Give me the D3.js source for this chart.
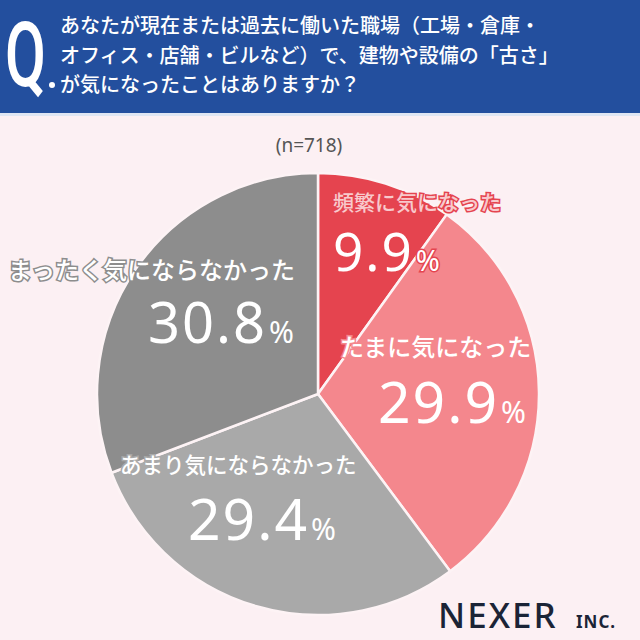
<!DOCTYPE html>
<html><head><meta charset="utf-8">
<script src="https://cdn.jsdelivr.net/npm/d3@7"></script>
<style>
html,body{margin:0;padding:0;background:#fcf0f3;}
svg{display:block;}
</style></head>
<body>
<script>
const categories = ["頻繁に気になった","たまに気になった","あまり気にならなかった","まったく気にならなかった"];
const values = [9.9, 29.9, 29.4, 30.8];
const colors = ["#e5444f","#f4878d","#a9a9a9","#8d8d8d"];
const questionLines = ["あなたが現在または過去に働いた職場（工場・倉庫・","オフィス・店舗・ビルなど）で、建物や設備の「古さ」","が気になったことはありますか？"];
const sampleLabel = "(n=718)";

const W = 640, H = 640;
const svg = d3.select("body").append("svg").attr("width", W).attr("height", H);
svg.append("rect").attr("width", W).attr("height", H).attr("fill", "#fcf0f3");

// header
svg.append("rect").attr("width", W).attr("height", 113).attr("fill", "#234f9e");
svg.append("rect").attr("y", 113).attr("width", W).attr("height", 3).attr("fill", "#dfe6f3");
svg.append("text").attr("transform", "translate(5,86) scale(0.66,1)")
  .attr("font-family", "Roboto, 'Liberation Sans', sans-serif").attr("font-weight", 500)
  .attr("font-size", 90).attr("fill", "#fff").text("Q");
svg.append("circle").attr("cx", 52).attr("cy", 85).attr("r", 3).attr("fill", "#fff");
svg.selectAll("text.q").data(questionLines).join("text").attr("class", "q")
  .attr("x", 60).attr("y", (d, i) => 33 + i * 29.5)
  .attr("font-family", "'Noto Sans CJK JP', sans-serif").attr("font-weight", 500)
  .attr("font-size", 20).attr("fill", "#fff").text(d => d);

// n label
svg.append("text").attr("x", 309).attr("y", 152).attr("text-anchor", "middle")
  .attr("font-family", "'Noto Sans', sans-serif").attr("font-size", 19).attr("fill", "#555")
  .text(sampleLabel);

// pie
const cx = 318, cy = 394, R = 221;
const pie = d3.pie().sort(null).value(d => d)(values);
const arc = d3.arc().innerRadius(0).outerRadius(R);
const g = svg.append("g").attr("transform", `translate(${cx},${cy})`);
g.selectAll("path").data(pie).join("path")
  .attr("d", arc).attr("fill", (d, i) => colors[i])
  .attr("stroke", "#fdf3f5").attr("stroke-width", 2.5).attr("stroke-linejoin", "round");

// labels
const labelPos = [
  {x: 333, y1: 210, y2: 271, fs1: 21, fs2: 53, pc: 29, tc: "#f8c9cc", sc: "#e5444f", nx: 333},
  {x: 340, y1: 356, y2: 423, fs1: 24, fs2: 57, pc: 30, tc: "#fff", sc: "#f4878d", nx: 378},
  {x: 120, y1: 473, y2: 540, fs1: 21.5, fs2: 57, pc: 30, tc: "#fff", sc: "#a9a9a9", nx: 188},
  {x: 8,   y1: 279, y2: 343, fs1: 24, fs2: 56, pc: 30, tc: "#fff", sc: "#8d8d8d", nx: 148}
];
categories.forEach((c, i) => {
  const p = labelPos[i];
  svg.append("text").attr("x", p.x).attr("y", p.y1)
    .attr("font-family", "'Noto Sans CJK JP', sans-serif").attr("font-weight", 500)
    .attr("font-size", p.fs1).attr("fill", p.tc)
    .attr("stroke", p.sc).attr("stroke-width", 3).attr("paint-order", "stroke")
    .text(c);
  const t = svg.append("text").attr("x", p.nx).attr("y", p.y2)
    .attr("font-family", "'Noto Sans', sans-serif").attr("font-weight", 400)
    .attr("font-size", p.fs2).attr("letter-spacing", 2).attr("fill", "#fff")
    .attr("stroke", p.sc).attr("stroke-width", 3).attr("paint-order", "stroke");
  t.append("tspan").text(d3.format(".1f")(values[i]));
  t.append("tspan").attr("font-size", p.pc).attr("letter-spacing", 0).attr("dx", 2).text("%");
});

// logo
svg.append("text").attr("x", 438).attr("y", 628)
  .attr("font-family", "'Noto Sans', sans-serif").attr("font-weight", 500)
  .attr("font-size", 35).attr("letter-spacing", 2).attr("fill", "#1b2436").text("NEXER");
svg.append("text").attr("x", 576).attr("y", 628)
  .attr("font-family", "'Noto Sans', sans-serif").attr("font-weight", 700)
  .attr("font-size", 17).attr("letter-spacing", 1).attr("fill", "#1b2436").text("INC.");
</script>
</body></html>
